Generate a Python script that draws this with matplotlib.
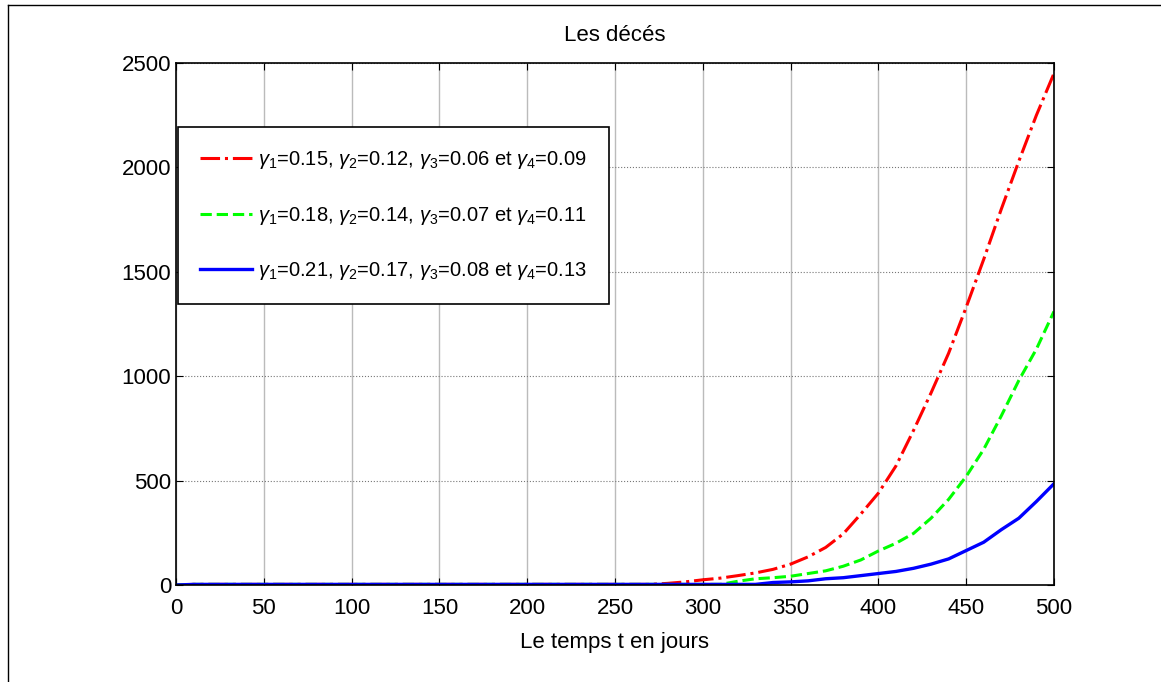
import matplotlib
matplotlib.use("Agg")
import matplotlib.pyplot as plt
from matplotlib.lines import Line2D

plt.rcParams['font.family'] = ['Liberation Sans', 'DejaVu Sans']
plt.rcParams['mathtext.fontset'] = 'custom'
plt.rcParams['mathtext.rm'] = 'Liberation Sans'
plt.rcParams['mathtext.it'] = 'Liberation Sans:italic'

# temps en jours (pas de 10 jours)
t = list(range(0, 510, 10))

deces_1 = [0] + [3] * 27 + [8, 15, 25, 33, 45, 58, 75, 100, 135, 180, 245, 340, 440,
                            570, 740, 920, 1110, 1330, 1560, 1800, 2030, 2250, 2450]
deces_2 = [0] + [3] * 31 + [18, 30, 35, 42, 55, 68, 90, 120, 163, 200, 247, 320, 410,
                            520, 650, 810, 980, 1130, 1310]
deces_3 = [0] + [3] * 33 + [12, 15, 20, 30, 35, 45, 55, 65, 80, 100, 125, 165, 205,
                            265, 320, 400, 485]

labels = [r'$\gamma_1$=0.15, $\gamma_2$=0.12, $\gamma_3$=0.06 et $\gamma_4$=0.09',
          r'$\gamma_1$=0.18, $\gamma_2$=0.14, $\gamma_3$=0.07 et $\gamma_4$=0.11',
          r'$\gamma_1$=0.21, $\gamma_2$=0.17, $\gamma_3$=0.08 et $\gamma_4$=0.13']

fig = plt.figure(figsize=(11.61, 6.82), dpi=100)
ax = fig.add_axes([0.1516, 0.1422, 0.7562, 0.7654])

ax.plot(t, deces_1, color='red', linestyle='-.', linewidth=2.2, label=labels[0])
ax.plot(t, deces_2, color='#00ff00', linestyle='--', linewidth=2.2, label=labels[1])
ax.plot(t, deces_3, color='blue', linestyle='-', linewidth=2.4, label=labels[2])

ax.set_xlim(0, 500)
ax.set_ylim(0, 2500)
ax.set_xticks(range(0, 501, 50))
ax.set_yticks(range(0, 2501, 500))
ax.xaxis.grid(True, color='#bbbbbb', linewidth=1.0)
ax.yaxis.grid(True, color='#777777', linewidth=0.8, linestyle=':')
ax.tick_params(direction='in', top=True, right=True, labelsize=16, length=5)
ax.tick_params(axis='x', pad=9)
for s in ax.spines.values():
    s.set_linewidth(1.2)

ax.set_title('Les décés', fontsize=16, pad=16)
ax.set_xlabel('Le temps t en jours', fontsize=16, labelpad=10)

leg = ax.legend(loc='upper left', bbox_to_anchor=(0.002, 0.877), borderaxespad=0,
                fontsize=14.5, fancybox=False, edgecolor='black', framealpha=1,
                handlelength=2.6, handletextpad=0.3, labelspacing=1.65, borderpad=1.1)
leg.get_frame().set_linewidth(1.2)

# cadre extérieur
fig.add_artist(Line2D([8 / 1161, 1], [1 - 5 / 682, 1 - 5 / 682], color='black', linewidth=1))
fig.add_artist(Line2D([8 / 1161, 8 / 1161], [0, 1 - 5 / 682], color='black', linewidth=1))

fig.savefig('out.png', dpi=100)
